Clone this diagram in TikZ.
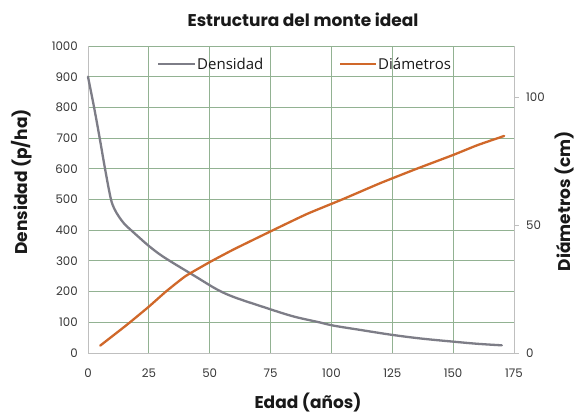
\documentclass[tikz,border=0pt]{standalone}
\usepackage{fontspec}
\newfontfamily\popf{Poppins}
\newfontfamily\osf{Open Sans}
\definecolor{gridgreen}{RGB}{146,178,146}
\definecolor{axisgray}{RGB}{191,191,191}
\definecolor{densgray}{RGB}{125,125,135}
\definecolor{diamorange}{RGB}{208,104,42}
\definecolor{ticktext}{RGB}{55,55,55}
\definecolor{titletext}{RGB}{25,25,25}
\begin{document}
\begin{tikzpicture}[x=1pt,y=-1pt,
  gridline/.style={draw=gridgreen,line width=0.9pt},
  axisline/.style={draw=axisgray,line width=0.9pt},
  ticklabel/.style={font=\popf\fontsize{11.8}{13}\selectfont,text=ticktext,inner sep=0pt},
  axistitle/.style={font=\popf\bfseries\fontsize{17}{19}\selectfont,text=titletext,inner sep=0pt},
  legendtext/.style={font=\osf\fontsize{15}{17}\selectfont,text=titletext,inner sep=0pt,anchor=west},
  densline/.style={draw=densgray,line width=2.3pt,line cap=round,line join=round},
  diamline/.style={draw=diamorange,line width=2.3pt,line cap=round,line join=round}]
\useasboundingbox (0,0) rectangle (577,414);
\fill[white] (0,0) rectangle (577,414);
\begin{scope}[shift={(88pt,-353pt)},x=2.434pt,y=0.307pt]
  % grid
  \foreach \i in {25,50,...,150} \draw[gridline] (\i,0) -- (\i,1000);
  \foreach \j in {100,200,...,1000} \draw[gridline] (0,\j) -- (175,\j);
  \draw[axisline] (0,0) -- (0,1000);
  \draw[axisline] (175,0) -- (175,1000);
  \draw[axisline] (0,0) -- (175,0);
  % right ticks
  \foreach \c in {0,50,100} \draw[axisline] (175,{\c*8.3333}) -- ++(2.2,0);
  % x labels
  \foreach \i in {0,25,...,175} \node[ticklabel] (xl\i) at (\i,0) [yshift=-20pt] {\i};
  % left labels
  \foreach \j in {0,100,...,1000} \node[ticklabel,anchor=east] (yl\j) at (0,\j) [xshift=-10pt] {\j};
  % right labels
  \foreach \c in {0,50,100} \node[ticklabel,anchor=west] (yr\c) at (175,{\c*8.3333}) [xshift=12pt] {\c};
  % density curve
  \draw[densline] plot[smooth,tension=0.55] coordinates {(0,900) (2.5,800) (4.8,700) (7,600) (9.3,505) (10.8,470) (12.8,443) (15,420) (17.7,400) (20.5,380) (24.5,352) (29,324) (33.6,300) (44,250) (53,207) (60,182) (72,150) (84,120) (95,100) (101,89) (112,75) (125,59) (137,47) (150,37) (160,30) (170,25)};
  % diameter curve
  \draw[diamline] plot[smooth,tension=0.3] coordinates {(5,24) (16,92) (25,151) (32,200) (40,250) (50,296) (60,338) (76,400) (90,453) (105,502) (120,553) (135,600) (150,645) (160,677) (171,707)};
\end{scope}
% legend
\draw[densline,line cap=butt] (158,64) coordinate (lg1a) -- (195,64) coordinate (lg1b);
\node[legendtext] (lgt1) at (197,64) {Densidad};
\draw[diamline,line cap=butt] (340,64) coordinate (lg2a) -- (376,64) coordinate (lg2b);
\node[legendtext] (lgt2) at (378,64) {Diámetros};
% titles
\node[axistitle] (title) at (303,20) {Estructura del monte ideal};
\node[axistitle] (xtitle) at (308,403) {Edad (años)};
\node[axistitle,rotate=90] (ytitle) at (22,182) {Densidad (p/ha)};
\node[axistitle,rotate=90] (y2title) at (565,201) {Diámetros (cm)};
\end{tikzpicture}
\end{document}
